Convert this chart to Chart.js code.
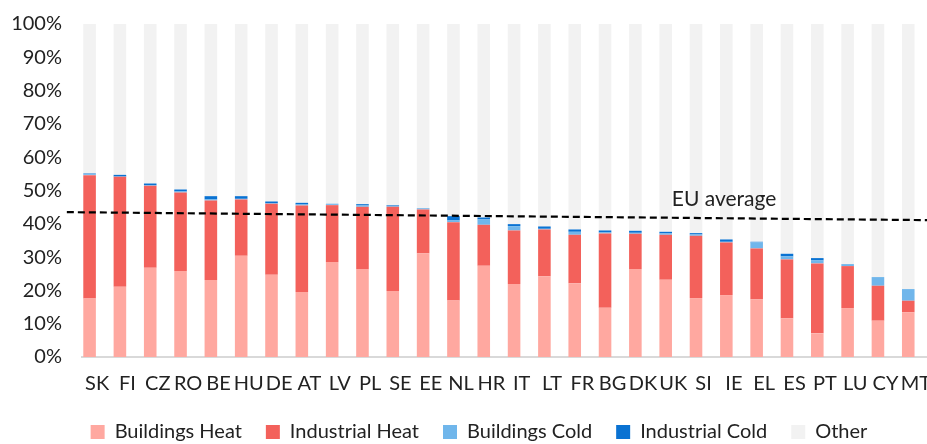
<!DOCTYPE html>
<html>
<head>
<meta charset="utf-8">
<script src="https://cdn.jsdelivr.net/npm/chart.js@4"></script>
<style>
  html, body { margin: 0; padding: 0; background: #fff; overflow: hidden; }
  #wrap { width: 963px; height: 444px; }
</style>
</head>
<body>
<div id="wrap"><canvas id="chart"></canvas></div>
<script>
// share of heating & cooling in final energy demand, by country (%)
const countries = ["SK","FI","CZ","RO","BE","HU","DE","AT","LV","PL","SE","EE","NL","HR",
  "IT","LT","FR","BG","DK","UK","SI","IE","EL","ES","PT","LU","CY","MT"];

const buildingsHeat  = [17.6,21.1,26.8,25.8,23.1,30.4,24.7,19.5,28.5,26.4,19.8,31.1,17.0,27.4,
  21.9,24.2,22.1,14.8,26.4,23.2,17.7,18.6,17.3,11.6,7.1,14.7,10.9,13.4];
const industrialHeat = [37.0,33.0,24.6,23.6,23.9,16.9,21.3,26.0,17.1,18.7,25.3,13.2,23.5,12.3,
  16.1,14.1,14.6,22.3,10.6,13.5,18.7,15.8,15.3,17.7,21.0,12.6,10.5,3.5];
const buildingsCold  = [0.3,0.1,0.2,0.3,0.3,0.2,0.2,0.3,0.3,0.4,0.3,0.3,0.5,1.6,
  1.3,0.2,0.9,0.3,0.3,0.4,0.4,0.2,1.8,0.9,0.9,0.6,2.6,3.5];
const industrialCold = [0.2,0.5,0.5,0.6,1.0,0.8,0.5,0.5,0.1,0.4,0.2,0.1,1.3,0.6,
  0.6,0.7,0.7,0.6,0.6,0.5,0.4,0.7,0.2,0.8,0.7,0.0,0.0,0.0];
const other = countries.map((_, i) =>
  +(100 - buildingsHeat[i] - industrialHeat[i] - buildingsCold[i] - industrialCold[i]).toFixed(1));

// EU average reference line (category index, %)
const euAvgX = [-1, 28];
const euAvgY = [43.5, 41.05];
const euLabel = "EU average";
const euLabelAt = [18.95, 47.4];

const yTicks = [0, 10, 20, 30, 40, 50, 60, 70, 80, 90, 100];

const FONT = "Lato, 'Open Sans', sans-serif";
const TEXT = "#222222";

function barSet(label, data, color) {
  return {
    label, data,
    backgroundColor: color,
    borderWidth: 0,
    barPercentage: 0.83,
    categoryPercentage: 1.0,
    stack: "h",
  };
}

const euLabelPlugin = {
  id: "euLabel",
  afterDatasetsDraw(chart) {
    const { ctx, scales } = chart;
    ctx.save();
    ctx.font = `21px ${FONT}`;
    ctx.fillStyle = TEXT;
    ctx.textAlign = "left";
    ctx.textBaseline = "middle";
    ctx.fillText(euLabel, scales.xLine.getPixelForValue(euLabelAt[0]), scales.y.getPixelForValue(euLabelAt[1]));
    ctx.restore();
  },
};

// legend sits lower and a bit further right than chart.js would put it
const legendFit = {
  id: "legendFit",
  beforeInit(chart) {
    const legend = chart.legend;
    const fit = legend.fit;
    const draw = legend.draw;
    legend.fit = function () {
      fit.call(this);
      this.height = 46;
    };
    legend.draw = function () {
      this.ctx.save();
      this.ctx.translate(7, 0);
      draw.call(this);
      this.ctx.restore();
    };
  },
};

new Chart(document.getElementById("chart"), {
  type: "bar",
  data: {
    labels: countries,
    datasets: [
      barSet("Buildings Heat", buildingsHeat, "#ffa8a0"),
      barSet("Industrial Heat", industrialHeat, "#f3615b"),
      barSet("Buildings Cold", buildingsCold, "#70b6eb"),
      barSet("Industrial Cold", industrialCold, "#0a72d2"),
      barSet("Other", other, "#f2f2f2"),
      {
        type: "line",
        label: "EU average",
        data: euAvgX.map((x, i) => ({ x, y: euAvgY[i] })),
        xAxisID: "xLine",
        stack: "avg",
        order: -1,
        borderColor: "#000",
        borderWidth: 2.2,
        borderDash: [7, 4],
        pointRadius: 0,
        fill: false,
        clip: false,
      },
    ],
  },
  options: {
    responsive: true,
    maintainAspectRatio: false,
    animation: false,
    layout: { padding: { left: 13, right: 32, top: 24, bottom: 0 } },
    plugins: {
      tooltip: { enabled: false },
      legend: {
        position: "bottom",
        labels: {
          filter: (item) => item.text !== "EU average",
          boxWidth: 14,
          boxHeight: 14,
          padding: 24,
          color: TEXT,
          font: { family: FONT, size: 20 },
        },
      },
    },
    scales: {
      x: {
        stacked: true,
        grid: { display: false, drawTicks: false },
        border: { color: "#d9d9d9", width: 2 },
        ticks: { color: TEXT, font: { family: FONT, size: 20 }, maxRotation: 0, autoSkip: false, padding: 15 },
        afterFit: (axis) => { axis.height = 41; },
      },
      xLine: {
        type: "linear",
        position: "top",
        offset: false,
        min: -0.5,
        max: countries.length - 0.5,
        grid: { display: false, drawTicks: false },
        border: { display: false },
        ticks: { display: false },
        afterFit: (axis) => { axis.height = 0; },
      },
      y: {
        stacked: true,
        min: 0,
        max: 100,
        afterBuildTicks: (axis) => { axis.ticks = yTicks.map((v) => ({ value: v })); },
        grid: { display: false, drawTicks: false },
        border: { display: false },
        ticks: { color: TEXT, font: { family: FONT, size: 20 }, padding: 20, callback: (v) => v + "%" },
        afterFit: (axis) => {
          axis.width = 69;
          axis.paddingTop = 0;
          axis.paddingBottom = 0;
        },
      },
    },
  },
  plugins: [euLabelPlugin, legendFit],
});
</script>
</body>
</html>
